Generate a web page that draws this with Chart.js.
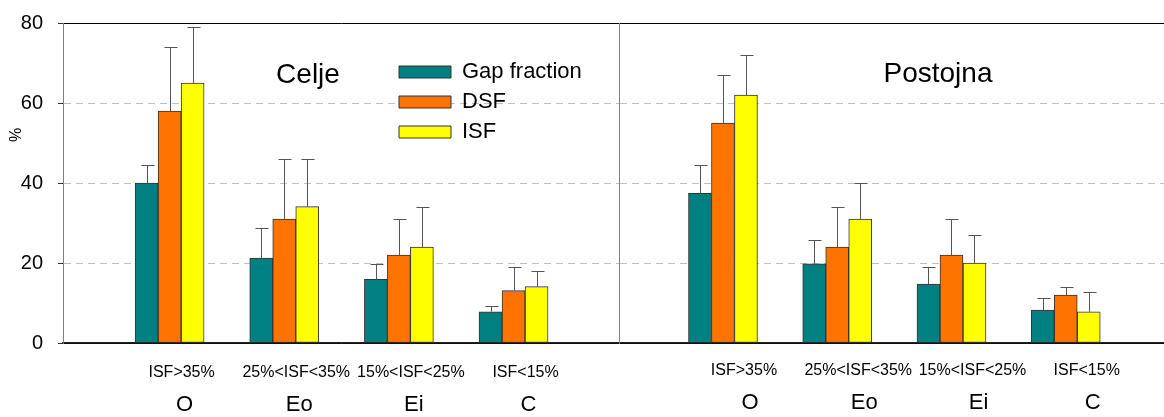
<!DOCTYPE html>
<html>
<head>
<meta charset="utf-8">
<script src="https://cdn.jsdelivr.net/npm/chart.js@4"></script>
<style>
body { margin: 0; background: #fff; }
#wrap { position: relative; width: 1164px; height: 417px; }
#celje { position: absolute; left: 0; top: 0; }
#postojna { position: absolute; left: 619px; top: 0; }
</style>
</head>
<body>
<div id="wrap">
<canvas id="celje" width="619" height="417"></canvas>
<canvas id="postojna" width="545" height="417"></canvas>
</div>
<script>
"use strict";

// categories and tick labels
const classes = ["O", "Eo", "Ei", "C"];
const isfRanges = ["ISF>35%", "25%<ISF<35%", "15%<ISF<25%", "ISF<15%"];
const seriesNames = ["Gap fraction", "DSF", "ISF"];
const yTicks = [0, 20, 40, 60, 80];

// Celje (mean, upper error)
const celjeGap = [40, 21.2, 15.9, 7.8];
const celjeGapErr = [4.4, 7.5, 3.9, 1.5];
const celjeDsf = [58, 31, 22, 13.1];
const celjeDsfErr = [16, 15, 9, 6];
const celjeIsf = [65, 34.1, 24, 14.1];
const celjeIsfErr = [14, 12, 10, 4];

// Postojna
const postGap = [37.4, 19.8, 14.7, 8.2];
const postGapErr = [7.2, 6, 4.3, 3];
const postDsf = [55, 24, 22, 12];
const postDsfErr = [12, 10, 9, 2];
const postIsf = [62, 31, 20, 7.8];
const postIsfErr = [10, 9, 7, 5];

const colors = ["#008080", "#FF7300", "#FFFF00"];
const family = "'Liberation Sans', Arial, sans-serif";
Chart.defaults.font.family = family;
Chart.defaults.color = "#000";

// upward error bars with a cap
const errorBars = {
    id: "errorBars",
    afterDatasetsDraw(chart) {
        const ctx = chart.ctx;
        const yScale = chart.scales.y;
        chart.data.datasets.forEach((ds, i) => {
            const meta = chart.getDatasetMeta(i);
            meta.data.forEach((bar, j) => {
                const top = Math.round(yScale.getPixelForValue(ds.data[j].y + ds.errors[j])) + 0.5;
                const x = Math.round(bar.x) + 0.5;
                ctx.save();
                ctx.strokeStyle = "#555";
                ctx.lineWidth = 1;
                ctx.beginPath();
                ctx.moveTo(x, bar.y);
                ctx.lineTo(x, top);
                ctx.moveTo(x - 6, top);
                ctx.lineTo(x + 7, top);
                ctx.stroke();
                ctx.restore();
            });
        });
    }
};

// panel name and the y unit
const panelText = {
    id: "panelText",
    afterDraw(chart, args, opts) {
        const ctx = chart.ctx;
        ctx.save();
        ctx.fillStyle = "#000";
        ctx.textAlign = "center";
        ctx.font = "28px " + family;
        ctx.fillText(opts.title, opts.titleX, opts.titleY);
        if (opts.unit) {
            ctx.translate(opts.unitX, opts.unitY);
            ctx.rotate(-Math.PI / 2);
            ctx.font = "16px " + family;
            ctx.textBaseline = "middle";
            ctx.fillText(opts.unit, 0, 0);
        }
        ctx.restore();
    }
};

// put the legend inside the plot
const moveLegend = {
    id: "moveLegend",
    afterLayout(chart, args, opts) {
        const lg = chart.legend;
        if (!lg || !lg.options.display) return;
        const w = lg.width;
        const h = lg.height;
        lg.left = opts.x;
        lg.top = opts.y;
        lg.right = opts.x + w;
        lg.bottom = opts.y + h;
    }
};

function makeDataset(i, values, errors) {
    return {
        label: seriesNames[i],
        data: values.map((v, k) => ({ x: k + 1, y: v })),
        errors: errors,
        backgroundColor: colors[i],
        borderColor: "#333",
        borderWidth: 1,
        borderSkipped: false,
        barThickness: 23
    };
}

function makeChart(canvasId, datasets, p) {
    const isLeft = p.isLeft;
    new Chart(document.getElementById(canvasId), {
        type: "bar",
        data: { datasets: datasets },
        plugins: [errorBars, panelText, moveLegend],
        options: {
            responsive: false,
            animation: false,
            layout: { padding: { top: 23, right: 0, bottom: 0, left: 0 } },
            plugins: {
                tooltip: { enabled: false },
                legend: {
                    display: isLeft,
                    position: "chartArea",
                    align: "start",
                    labels: {
                        boxWidth: 52,
                        boxHeight: 12,
                        padding: 8,
                        color: "#000",
                        font: { size: 22 }
                    }
                },
                moveLegend: { x: 391, y: 53 },
                panelText: p.text
            },
            scales: {
                x: {
                    type: "linear",
                    position: "bottom",
                    offset: false,
                    weight: 0,
                    min: p.min,
                    max: p.max,
                    afterBuildTicks: s => { s.ticks = classes.map((c, k) => ({ value: k + 1 })); },
                    afterFit: s => { s.height = 40; },
                    grid: { display: false, drawTicks: false },
                    border: { color: "#222", width: 1.5 },
                    ticks: {
                        callback: v => isfRanges[v - 1],
                        font: { size: 16 },
                        color: "#000",
                        padding: p.subPad,
                        labelOffset: p.subOffset,
                        maxRotation: 0,
                        autoSkip: false
                    }
                },
                x2: {
                    type: "linear",
                    position: "bottom",
                    offset: false,
                    weight: 1,
                    min: p.min,
                    max: p.max,
                    afterBuildTicks: s => { s.ticks = classes.map((c, k) => ({ value: k + 1 })); },
                    afterFit: s => { s.height = 34; },
                    grid: { display: false, drawTicks: false },
                    border: { display: false },
                    ticks: {
                        callback: v => classes[v - 1],
                        font: { size: 22, lineHeight: 1 },
                        color: "#000",
                        padding: p.letterPad,
                        labelOffset: p.letterOffset,
                        maxRotation: 0,
                        autoSkip: false
                    }
                },
                y: {
                    min: 0,
                    max: 80,
                    afterBuildTicks: s => { s.ticks = yTicks.map(v => ({ value: v })); },
                    afterFit: s => {
                        s.width = isLeft ? 63 : 0;
                        s.paddingTop = 0;
                        s.paddingBottom = 0;
                    },
                    ticks: {
                        display: isLeft,
                        font: { size: 20 },
                        color: "#000",
                        padding: 15
                    },
                    grid: {
                        color: c => (c.tick && c.tick.value % 80 === 0 ? "#000" : "#c0c0c0"),
                        drawTicks: isLeft,
                        tickLength: 5,
                        tickColor: "#333"
                    },
                    border: {
                        color: "#808080",
                        width: 1,
                        dash: c => (c.tick && c.tick.value % 80 !== 0 ? [7, 5] : [])
                    }
                }
            }
        }
    });
}

makeChart("celje", [
    makeDataset(0, celjeGap, celjeGapErr),
    makeDataset(1, celjeDsf, celjeDsfErr),
    makeDataset(2, celjeIsf, celjeIsfErr)
], {
    isLeft: true,
    min: 0.07, max: 4.92,
    subPad: 20, subOffset: 12,
    letterPad: 11, letterOffset: 15,
    text: { title: "Celje", titleX: 308, titleY: 83, unit: "%", unitX: 17, unitY: 135 }
});

makeChart("postojna", [
    makeDataset(0, postGap, postGapErr),
    makeDataset(1, postDsf, postDsfErr),
    makeDataset(2, postIsf, postIsfErr)
], {
    isLeft: false,
    min: 0.09, max: 4.86,
    subPad: 18, subOffset: 21,
    letterPad: 9, letterOffset: 27,
    text: { title: "Postojna", titleX: 319, titleY: 82 }
});
</script>
</body>
</html>
